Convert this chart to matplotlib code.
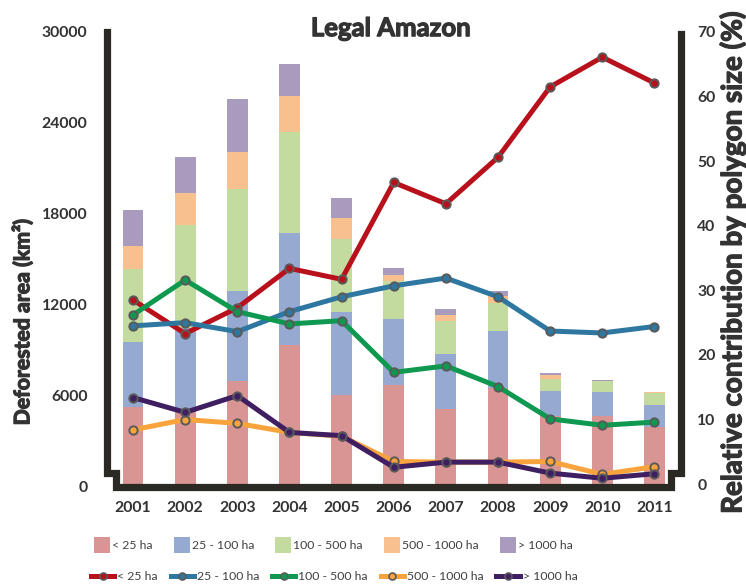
import matplotlib

matplotlib.use("Agg")
import matplotlib.pyplot as plt
import matplotlib.patheffects as pe
import numpy as np
from matplotlib.lines import Line2D
from matplotlib.patches import Patch

years = ["2001", "2002", "2003", "2004", "2005", "2006", "2007", "2008", "2009", "2010", "2011"]
classes = ["< 25 ha", "25 - 100 ha", "100 - 500 ha", "500 - 1000 ha", "> 1000 ha"]

# deforested area per polygon size class (km²), stacked bars
area_lt25 = [5230, 4950, 6950, 9290, 6030, 6690, 5080, 6510, 4660, 4660, 3910]
area_25_100 = [4260, 5510, 5960, 7400, 5450, 4370, 3660, 3750, 1630, 1570, 1450]
area_100_500 = [4880, 6820, 6690, 6690, 4810, 2470, 2190, 1840, 800, 700, 800]
area_500_1000 = [1520, 2060, 2450, 2380, 1390, 440, 390, 440, 260, 40, 30]
area_gt1000 = [2320, 2380, 3510, 2120, 1330, 420, 400, 370, 130, 50, 40]

# relative contribution by polygon size (%), lines on right axis
pct_lt25 = [28.5, 23.3, 27.3, 33.4, 31.7, 46.7, 43.4, 50.6, 61.5, 66.1, 62.1]
pct_25_100 = [24.5, 25.0, 23.6, 26.7, 29.0, 30.7, 31.9, 29.0, 23.7, 23.4, 24.4]
pct_100_500 = [26.2, 31.6, 26.7, 24.8, 25.3, 17.3, 18.3, 15.1, 10.1, 9.1, 9.6]
pct_500_1000 = [8.4, 10.0, 9.4, 8.0, 7.4, 3.5, 3.4, 3.4, 3.5, 1.5, 2.7]
pct_gt1000 = [13.4, 11.1, 13.7, 8.0, 7.5, 2.6, 3.4, 3.4, 1.7, 0.9, 1.6]

bar_colors = ["#d99594", "#95a9d1", "#c4dba0", "#f9c08f", "#a99bbd"]
line_colors = ["#b8111c", "#2e77a0", "#0f9950", "#f9a33c", "#3f1f62"]
FRAME = "#2b2924"
TEXT = "#333333"
HEAVY = [pe.withStroke(linewidth=0.9, foreground=TEXT)]  # fake a black weight

plt.rcParams["font.family"] = ["Lato", "DejaVu Sans"]

fig = plt.figure(figsize=(7.46, 5.86), dpi=100)
ax = fig.add_axes([0.1434, 0.1706, 0.7688, 0.7748])
ax2 = ax.twinx()

x = np.arange(len(years))
areas = [area_lt25, area_25_100, area_100_500, area_500_1000, area_gt1000]
bottom = np.zeros(len(years))
for vals, col in zip(areas, bar_colors):
    ax.bar(x, vals, width=0.4, bottom=bottom, color=col, zorder=2)
    bottom += np.array(vals)

pcts = [pct_lt25, pct_25_100, pct_100_500, pct_500_1000, pct_gt1000]
for vals, col in zip(pcts, line_colors):
    ax2.plot(x, vals, color=col, linewidth=3.6, marker="o", markersize=6,
             markerfacecolor=col, markeredgecolor="#5a5a5a", markeredgewidth=1.4,
             solid_capstyle="round", zorder=3)

ax.set_xlim(-0.5, 10.5)
ax.set_ylim(0, 30000)
ax2.set_ylim(-0.3, 70)
ax.set_xticks(x)
ax.set_xticklabels(years)
ax.set_yticks(np.arange(0, 30001, 6000))
ax2.set_yticks(np.arange(0, 71, 10))

for a in (ax, ax2):
    for s in a.spines.values():
        s.set_visible(False)
    a.tick_params(length=0, labelsize=11.3, labelcolor=TEXT)
ax.tick_params(axis="y", pad=14)
ax.tick_params(axis="x", pad=11)
ax2.tick_params(axis="y", pad=12)
for lbl in ax.get_xticklabels() + ax.get_yticklabels() + ax2.get_yticklabels():
    lbl.set_fontweight("bold")

# notched frame round the plot area (axes fraction)
fx = [0.0, 0.0, 0.0166, 0.0166, 0.9834, 0.9834, 1.0, 1.0]
fy = [1.0, 0.0286, 0.0286, -0.0022, -0.0022, 0.0286, 0.0286, 0.9956]
ax.add_line(Line2D(fx, fy, transform=ax.transAxes, color=FRAME, linewidth=5.2,
                   solid_joinstyle="miter", clip_on=False, zorder=5))

fig.text(0.524, 0.952, "Legal Amazon", ha="center", va="center", fontsize=18.5,
         fontweight="bold", color=TEXT, path_effects=HEAVY)
fig.text(0.031, 0.45, "Deforested area (km²)", rotation=90, ha="center", va="center",
         fontsize=15.3, fontweight="bold", color=TEXT, path_effects=HEAVY)
fig.text(0.982, 0.552, "Relative contribution by polygon size (%)", rotation=90,
         ha="center", va="center", fontsize=20, fontweight="bold", color=TEXT,
         path_effects=HEAVY)

leg_font = {"size": 8.8}
bar_handles = [Patch(facecolor=c) for c in bar_colors]
fig.legend(bar_handles, classes, ncol=5, loc="center", bbox_to_anchor=(0.447, 0.07),
           frameon=False, prop=leg_font, handlelength=1.3, handleheight=1.72,
           handletextpad=0.17, columnspacing=1.75, labelcolor="#404040")
line_handles = [Line2D([], [], color=c, linewidth=3.6, marker="o", markersize=5,
                       markerfacecolor=c, markeredgecolor="#5a5a5a", markeredgewidth=1.2)
                for c in line_colors]
fig.legend(line_handles, classes, ncol=5, loc="center", bbox_to_anchor=(0.448, 0.016),
           frameon=False, prop=leg_font, handlelength=1.9, handletextpad=0.25,
           columnspacing=1.05, labelcolor="#404040")

fig.savefig("out.png", dpi=100)
